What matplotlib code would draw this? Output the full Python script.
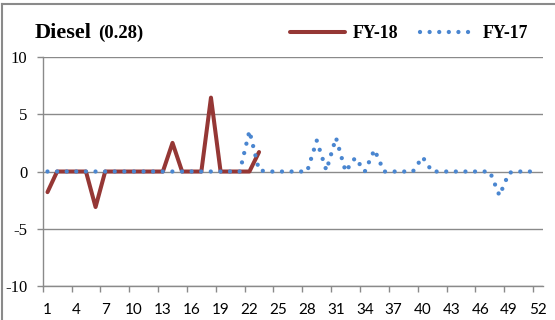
import matplotlib.pyplot as plt
from matplotlib.lines import Line2D

plt.rcParams['axes.unicode_minus'] = False

# ============================== Data ==========================================
weeks = list(range(1, 53))
tick_weeks = [1, 4, 7, 10, 13, 16, 19, 22, 25, 28, 31, 34, 37, 40, 43, 46, 49, 52]

fy18 = [-1.8, 0, 0, 0, 0, -3.1, 0, 0, 0, 0, 0, 0, 0, 2.5, 0, 0, 0, 6.45,
        0, 0, 0, 0, 1.7]

fy17 = [0, 0, 0, 0, 0, 0, 0, 0, 0, 0, 0, 0, 0, 0, 0, 0, 0, 0, 0, 0, 0,
        3.55, 0.1, 0, 0, 0, 0, 0, 2.7, 0.1, 2.95, 0, 1.2, 0, 1.9, 0,
        0, 0, 0, 1.27, 0, 0, 0, 0, 0, 0, 0, -2.1, -0.1, 0, 0, 0]

red = '#953735'
blue = '#4a86d0'
grey = '#8a8a8a'
serif = 'Liberation Serif'

# ============================== Plot ==========================================
fig = plt.figure(figsize=(5.55, 3.2), dpi=100)
ax = fig.add_axes([0.0769, 0.106, 0.901, 0.716])

ax.plot(weeks[:len(fy18)], fy18, color=red, lw=2.9, solid_joinstyle='round',
        solid_capstyle='round', label='FY-18', zorder=3)
ax.plot(weeks, fy17, color=blue, lw=3.1, ls=(0, (0.001, 2.23)),
        dash_capstyle='round', label='FY-17', zorder=4)

ax.set_xlim(0.5, 52.5)
ax.set_ylim(-10, 10)
ax.set_yticks([-10, -5, 0, 5, 10])
ax.set_xticks(tick_weeks)
ax.set_xticks([w - 0.5 for w in tick_weeks], minor=True)
ax.tick_params(axis='x', which='major', length=0, pad=12)
ax.tick_params(axis='x', which='minor', length=4, color=grey, width=1)
ax.tick_params(axis='y', length=4, color=grey, width=1, pad=7)

for lbl in ax.get_yticklabels():
    lbl.set_fontfamily(serif)
    lbl.set_fontsize(12)
for lbl in ax.get_xticklabels():
    lbl.set_fontfamily('Lato')
    lbl.set_fontsize(11)

ax.grid(axis='y', color=grey, lw=1)
for side in ['top', 'right']:
    ax.spines[side].set_visible(False)
for side in ['left', 'bottom']:
    ax.spines[side].set_color(grey)
    ax.spines[side].set_linewidth(1)

# title
fig.text(35 / 555, 1 - 37.7 / 320, 'Diesel', fontfamily=serif, fontweight='bold',
         fontsize=16, va='baseline', ha='left')
fig.text(98 / 555, 1 - 37.7 / 320, '(0.28)', fontfamily=serif, fontweight='bold',
         fontsize=13.5, va='baseline', ha='left')

# legend
ax.legend(loc='center right', bbox_to_anchor=(528 / 555, 1 - 34 / 320),
          bbox_transform=fig.transFigure, ncol=2, frameon=False,
          prop={'family': serif, 'weight': 'bold', 'size': 12.8},
          handlelength=3.1, handletextpad=0.4, columnspacing=1.25,
          borderpad=0, borderaxespad=0)

# chart area border (top and left edges visible)
fig.add_artist(Line2D([1.7 / 555, 1.7 / 555], [0, 1 - 4 / 320], color=grey, lw=1.5))
fig.add_artist(Line2D([1.7 / 555, 1], [1 - 4 / 320, 1 - 4 / 320], color=grey, lw=1.5))

fig.savefig('out.png', dpi=100)
